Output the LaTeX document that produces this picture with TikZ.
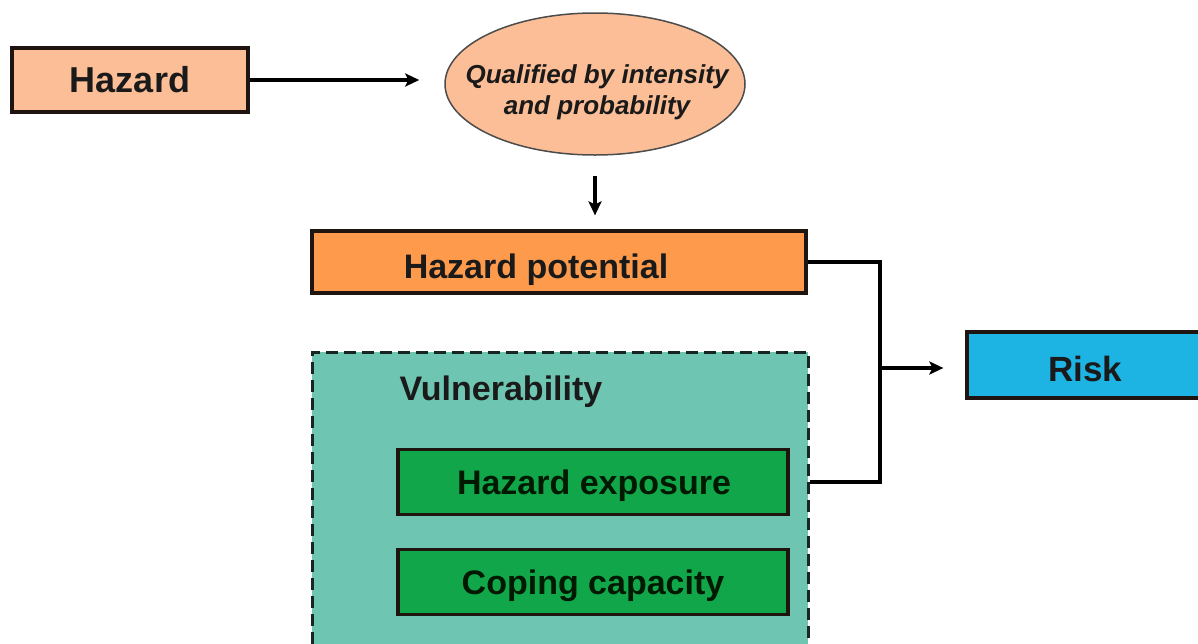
\documentclass[tikz,border=0pt]{standalone}
\usepackage{fontspec}
\setmainfont{Liberation Sans}
\usetikzlibrary{arrows.meta,shapes.geometric}
\definecolor{peach}{HTML}{FBBE96}
\definecolor{orangehp}{HTML}{FD9A4C}
\definecolor{riskblue}{HTML}{1DB3E3}
\definecolor{teal}{HTML}{6EC5B1}
\definecolor{greenbox}{HTML}{12A64A}
\definecolor{edge}{HTML}{1E1410}
\definecolor{txt}{HTML}{1A1A1A}
\begin{document}
\begin{tikzpicture}[x=1pt,y=-1pt,
  box/.style={draw=edge,line width=3.2pt,rectangle,inner sep=0pt},
  bigtext/.style={font=\fontsize{34}{40}\selectfont\bfseries,text=txt},
  conn/.style={line width=3.4pt,draw=black},
  arr/.style={conn,-{Stealth[length=14pt,width=13pt,inset=3pt]}}]
\useasboundingbox (0,0) rectangle (1198,643);
\clip (0,0) rectangle (1198,643);
\fill[white] (0,0) rectangle (1198,643);
% Hazard
\node[box,fill=peach,minimum width=236pt,minimum height=64pt,
  font=\fontsize{36}{42}\selectfont\bfseries,text=txt] (haz) at (130,80) {Hazard};
% ellipse
\node[ellipse,draw=black!70,line width=1.5pt,fill=peach,minimum width=300pt,minimum height=142pt,
  inner sep=0pt] (qual) at (595,84) {};
\node[align=center,font=\fontsize{26}{31}\selectfont\bfseries\itshape,text=txt]
  (qualtext) at (597,92) {Qualified by intensity\\and probability};
% hazard potential
\node[box,fill=orangehp,minimum width=494pt,minimum height=62pt] (hp) at (559,262) {};
\node[bigtext] (hptext) at (536,270) {Hazard potential};
% vulnerability
\node[draw=black!80!teal,dash pattern=on 12pt off 6pt,line width=3pt,fill=teal,
  minimum width=496pt,minimum height=330pt,inner sep=0pt] (vul) at (560,517) {};
\node[bigtext,anchor=west] (vultext) at (396,392) {Vulnerability};
\node[box,fill=greenbox,minimum width=390pt,minimum height=65pt] (he) at (593,482) {};
\node[bigtext,text=black!90!green] (hetext) at (594,486) {Hazard exposure};
\node[box,fill=greenbox,minimum width=390pt,minimum height=65pt] (cc) at (593,582) {};
\node[bigtext,text=black!90!green] (cctext) at (593,586) {Coping capacity};
% risk
\node[box,fill=riskblue,minimum width=236pt,minimum height=66pt] (risk) at (1085,365) {};
\node[font=\fontsize{35}{41}\selectfont\bfseries,text=txt] (risktext) at (1085,369) {Risk};
% connectors
\coordinate (j) at (880,368);
\draw[arr,shorten >=25pt] (haz.east) -- (haz.east -| qual.west);
\draw[arr,shorten <=20pt,shorten >=14pt] (qual.south) -- (qual.south |- hp.north);
\draw[conn] (hp.east) -| (j);
\draw[conn] (vul.east |- he.east) -| (j);
\draw[arr,shorten >=22pt] (j) -- (j -| risk.west);
\end{tikzpicture}
\end{document}
